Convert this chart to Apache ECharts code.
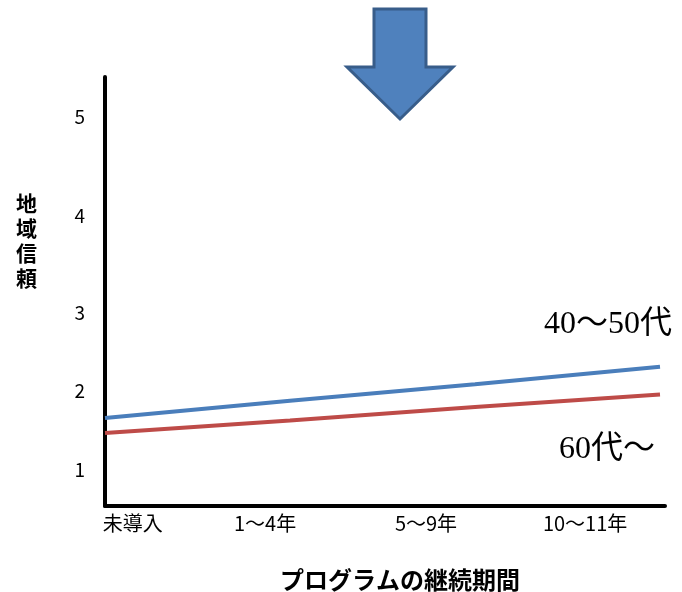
<!DOCTYPE html>
<html>
<head>
<meta charset="utf-8">
<script src="https://cdn.jsdelivr.net/npm/echarts@6/dist/echarts.min.js"></script>
<style>
html,body{margin:0;padding:0;background:#fff;}
#chart{width:682px;height:592px;}
</style>
</head>
<body>
<div id="chart"></div>
<script>
// ---- data ----
const categories = ['未導入', '1〜4年', '5〜9年', '10〜11年'];
const seriesNames = ['40〜50代', '60代〜'];
const values4050 = [1.66, 1.88, 2.09, 2.31];
const values60 = [1.47, 1.63, 1.80, 1.96];
const yTickLabels = ['1', '2', '3', '4', '5'];
// positions (in axis units) where the reference places its hand-set labels
const yTickPos = [1, 2, 3, 4.23, 5.48];
const xLabelPos = [0.15, 0.865, 1.735, 2.595];
const yAxisName = '地域信頼';
const xAxisName = 'プログラムの継続期間';

const CJK = '"Noto Sans CJK JP", "Noto Sans", sans-serif';
const SERIF = '"Liberation Serif", "DejaVu Serif", "Noto Sans CJK JP", serif';

const chart = echarts.init(document.getElementById('chart'), null, {renderer: 'canvas'});

function pairs(vals) { return vals.map((v, i) => [i, v]); }

function xLabelFor(v) {
  let best = 0, d = Infinity;
  xLabelPos.forEach((p, i) => { const dd = Math.abs(p - v); if (dd < d) { d = dd; best = i; } });
  return categories[best];
}
function yLabelFor(v) {
  let best = 0, d = Infinity;
  yTickPos.forEach((p, i) => { const dd = Math.abs(p - v); if (dd < d) { d = dd; best = i; } });
  return yTickLabels[best];
}

const option = {
  animation: false,
  backgroundColor: '#fff',
  grid: {left: 105, right: 17, top: 77, bottom: 86, containLabel: false, outerBoundsMode: 'none'},
  xAxis: {
    type: 'value',
    min: 0, max: 3.027,
    axisLine: {show: true, onZero: false, lineStyle: {color: '#000', width: 4}},
    axisTick: {show: false},
    splitLine: {show: false},
    axisLabel: {
      customValues: xLabelPos,
      formatter: xLabelFor,
      color: '#000', fontSize: 20, fontFamily: CJK, margin: 7
    },
    name: xAxisName,
    nameLocation: 'middle',
    nameGap: 62,
    nameTextStyle: {color: '#000', fontSize: 24, fontWeight: 'bold', fontFamily: CJK, padding: [0, 0, 0, 30]}
  },
  yAxis: {
    type: 'value',
    min: 0.544, max: 5.987,
    axisLine: {show: true, onZero: false, lineStyle: {color: '#000', width: 4}},
    axisTick: {show: false},
    splitLine: {show: false},
    axisLabel: {
      customValues: yTickPos,
      formatter: yLabelFor,
      color: '#000', fontSize: 19, fontFamily: CJK, margin: 20
    }
  },
  series: [
    {
      name: seriesNames[0], type: 'line', data: pairs(values4050),
      symbol: 'none', lineStyle: {color: '#4A7EBB', width: 4}, z: 3
    },
    {
      name: seriesNames[1], type: 'line', data: pairs(values60),
      symbol: 'none', lineStyle: {color: '#BE4B48', width: 4}, z: 3
    }
  ],
  graphic: [
    {
      type: 'text', left: 16, top: 191,
      style: {text: yAxisName.split('').join('\n'), fontSize: 21, lineHeight: 25, fontWeight: 'bold', fontFamily: CJK, fill: '#000'}
    },
    {
      type: 'text', left: 544, top: 309,
      style: {text: seriesNames[0], fontSize: 32, fontFamily: SERIF, fill: '#000'}
    },
    {
      type: 'text', left: 559, top: 434,
      style: {text: seriesNames[1], fontSize: 32, fontFamily: SERIF, fill: '#000'}
    },
    {
      type: 'polygon',
      shape: {points: [[374, 9], [426, 9], [426, 67], [453, 67], [400, 119], [347, 67], [374, 67]]},
      style: {fill: '#4F81BD', stroke: '#385D8A', lineWidth: 3}
    }
  ]
};
chart.setOption(option);
</script>
</body>
</html>
